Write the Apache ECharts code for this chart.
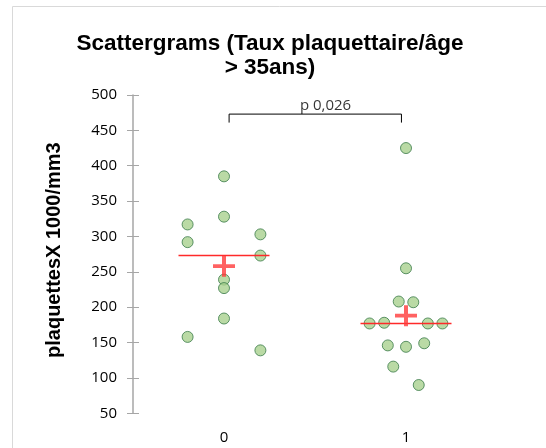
<!DOCTYPE html>
<html><head><meta charset="utf-8">
<script src="https://cdn.jsdelivr.net/npm/echarts@6/dist/echarts.min.js"></script>
<style>html,body{margin:0;padding:0;background:#fff}#c{width:546px;height:448px}</style>
</head><body><div id="c"></div>
<script>
// Group 0 (jittered x positions around 0) and values
var g0X = [0, 0, -0.2, -0.2, 0.2, 0.2, 0, 0, 0, -0.2, 0.2];
var g0Y = [385, 328, 317, 292, 303, 273, 239, 227, 184, 158, 139];
// Group 1
var g1X = [1, 1, 0.96, 1.04, 0.8, 0.88, 1.12, 1.2, 0.9, 1, 1.1, 0.93, 1.07];
var g1Y = [425, 255, 208, 207, 177, 178, 177, 177, 146, 144, 149, 116, 90];
var categories = ['0', '1'];
var medians = [273, 177];
var means = [258, 188];
var pLabel = 'p 0,026';
var yTicks = {min: 50, max: 500, interval: 50};

function pairs(xs, ys){ return xs.map(function(x,i){ return [x, ys[i]]; }); }

var chart = echarts.init(document.getElementById('c'), null, {renderer:'canvas'});
var dotStyle = {color:'#a9d18e', borderColor:'#3a7a48', borderWidth:1};
var plusPath = 'path://M9,0h4v9h9v4h-9v9h-4v-9h-9v-4h9z';
var series = [
  {type:'scatter', data: pairs(g0X, g0Y), symbolSize: 11, itemStyle: dotStyle, z:3},
  {type:'scatter', data: pairs(g1X, g1Y), symbolSize: 11, itemStyle: dotStyle, z:3}
];
medians.forEach(function(m, i){
  series.push({type:'line', data:[[i-0.25, m],[i+0.25, m]], symbol:'none',
    lineStyle:{color:'#ff2a2a', width:1.5}, z:4, silent:true});
});
series.push({type:'scatter', data: means.map(function(m,i){return [i, m];}),
  symbol: plusPath, symbolSize:[22,21], itemStyle:{color:'#ff3b3b'}, z:5});
// significance bracket
series.push({type:'line', data:[[0.028,461],[0.028,473],[0.975,473],[0.975,461]],
  symbol:'none', lineStyle:{color:'#000', width:1}, z:2, silent:true});
series.push({type:'scatter', data:[[0.558, 485]], symbolSize:0,
  label:{show:true, position:'inside', formatter: pLabel, color:'#000',
    fontFamily:'Open Sans', fontSize:15}, z:2});

chart.setOption({
  animation:false,
  title:{text:'Scattergrams (Taux plaquettaire/âge\n> 35ans)', left:265, top:27, textAlign:'center',
    textStyle:{fontFamily:'Liberation Sans', fontWeight:'bold', fontSize:22.5, lineHeight:24, color:'#000'}},
  graphic:[{type:'rect', shape:{x:12.5, y:6.5, width:600, height:500},
    style:{fill:'none', stroke:'#d9d9d9', lineWidth:1}, silent:true, z:-10}],
  grid:{left:133, right:49, top:95, bottom:34.7},
  xAxis:{type:'value', min:-0.5, max:1.5, interval:0.5,
    axisLine:{show:false}, axisTick:{show:false}, splitLine:{show:false},
    axisLabel:{margin:17, color:'#000', fontFamily:'Open Sans', fontSize:15,
      formatter:function(v){ var k = Math.round(v); return (Math.abs(v-k)<1e-6 && categories[k]!==undefined) ? categories[k] : ''; }}},
  yAxis:[{type:'value', min:yTicks.min, max:yTicks.max, interval:yTicks.interval,
    name:'plaquettesX 1000/mm3', nameLocation:'middle', nameGap:69,
    nameTextStyle:{fontFamily:'Liberation Sans', fontWeight:'bold', fontSize:20, color:'#000', padding:[0,0,0,8]},
    axisLine:{show:true, onZero:false, lineStyle:{color:'#a6a6a6', width:1.5}},
    axisTick:{show:true, length:6, lineStyle:{color:'#a6a6a6'}},
    splitLine:{show:false},
    axisLabel:{margin:16, color:'#000', fontFamily:'Open Sans', fontSize:15}},
   {type:'value', position:'left', min:yTicks.min, max:yTicks.max, interval:yTicks.interval,
    axisLine:{show:false, onZero:false}, axisTick:{show:true, inside:true, length:6, lineStyle:{color:'#a6a6a6'}},
    splitLine:{show:false}, axisLabel:{show:false}}],
  series: series
});
</script></body></html>
